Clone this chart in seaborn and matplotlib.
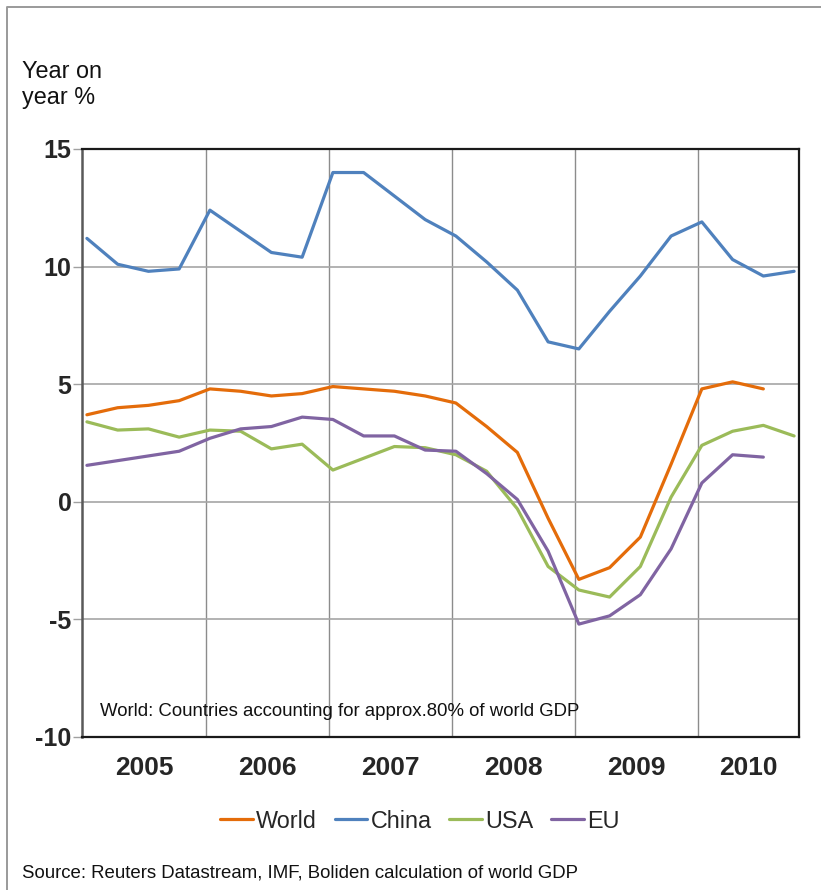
import numpy as np
import pandas as pd
import matplotlib
matplotlib.use("Agg")
import matplotlib.pyplot as plt
from matplotlib.lines import Line2D
import seaborn as sns

# Quarterly GDP growth, year on year %, 2005 Q1 - 2010 Q4
years = ["2005", "2006", "2007", "2008", "2009", "2010"]
quarters_per_year = 4

world = [3.7, 4.0, 4.1, 4.3, 4.8, 4.7, 4.5, 4.6, 4.9, 4.8, 4.7, 4.5,
         4.2, 3.2, 2.1, -0.7, -3.3, -2.8, -1.5, 1.6, 4.8, 5.1, 4.8, np.nan]
china = [11.2, 10.1, 9.8, 9.9, 12.4, 11.5, 10.6, 10.4, 14.0, 14.0, 13.0, 12.0,
         11.3, 10.2, 9.0, 6.8, 6.5, 8.1, 9.6, 11.3, 11.9, 10.3, 9.6, 9.8]
usa = [3.4, 3.05, 3.1, 2.75, 3.05, 3.0, 2.25, 2.45, 1.35, 1.85, 2.35, 2.3,
       2.0, 1.3, -0.3, -2.75, -3.75, -4.05, -2.75, 0.2, 2.4, 3.0, 3.25, 2.8]
eu = [1.55, 1.75, 1.95, 2.15, 2.7, 3.1, 3.2, 3.6, 3.5, 2.8, 2.8, 2.2,
      2.15, 1.2, 0.1, -2.1, -5.2, -4.85, -3.95, -2.0, 0.8, 2.0, 1.9, np.nan]

series_names = ["World", "China", "USA", "EU"]
colors = {"World": "#E46C0A", "China": "#4F81BD", "USA": "#9BBB59", "EU": "#8064A2"}

n = len(china)
quarter = np.arange(n)
df = pd.concat(
    [pd.DataFrame({"quarter": quarter, "value": vals, "series": name})
     for name, vals in zip(series_names, [world, china, usa, eu])],
    ignore_index=True,
)

sns.set_theme(style="white")
plt.rcParams["font.family"] = ["Liberation Sans", "DejaVu Sans"]

fig = plt.figure(figsize=(8.21, 8.90), dpi=100)
ax = fig.add_axes([82 / 821, 1 - 737 / 890, 717 / 821, 588 / 890])

sns.lineplot(data=df, x="quarter", y="value", hue="series",
             hue_order=series_names, palette=colors, linewidth=2.3,
             legend=False, ax=ax, zorder=3)

# axis ranges
ax.set_xlim(-0.16, n - 1 + 0.16)
ax.set_ylim(-10, 15)

# year separators (major) and centred year labels (minor)
offset = 0.12
bounds = [quarters_per_year * k - offset for k in range(1, len(years))]
edges = [ax.get_xlim()[0]] + bounds + [ax.get_xlim()[1]]
centres = [(a + b) / 2 for a, b in zip(edges[:-1], edges[1:])]
ax.set_xticks(bounds)
ax.set_xticklabels([])
ax.set_xticks(centres, minor=True)
ax.set_xticklabels(years, minor=True, fontsize=19, fontweight="bold")
ax.tick_params(axis="x", which="both", length=0)
ax.tick_params(axis="x", which="minor", pad=14)
ax.grid(True, axis="x", which="major", color="#8c8c8c", linewidth=1.0)

ax.set_yticks(np.arange(-10, 16, 5))
ax.set_yticklabels([str(v) for v in range(-10, 16, 5)], fontsize=18, fontweight="bold")
ax.tick_params(axis="y", direction="out", length=6.5, width=1.0, color="#a0a0a0",
               pad=1, left=True)
ax.grid(True, axis="y", color="#a6a6a6", linewidth=1.2)
ax.set_axisbelow(True)

ax.set_xlabel("")
ax.set_ylabel("")

for side in ["top", "right", "bottom"]:
    ax.spines[side].set_color("#1a1a1a")
    ax.spines[side].set_linewidth(1.6)
ax.spines["left"].set_color("#595959")
ax.spines["left"].set_linewidth(1.8)

ax.text(0.025, 0.043, "World: Countries accounting for approx.80% of world GDP",
        transform=ax.transAxes, fontsize=13.4, va="center", ha="left", color="#111111")

# unit label
fig.text(22 / 821, 1 - 60 / 890, "Year on\nyear %", fontsize=16.8, va="top", ha="left",
         linespacing=1.15, color="#111111")

# legend
handles = [Line2D([0], [0], color=colors[s], linewidth=2.3) for s in series_names]
fig.legend(handles, series_names, loc="center", ncol=4, frameon=False,
           bbox_to_anchor=(420 / 821, 1 - 821 / 890), fontsize=16.8,
           handlelength=1.4, handletextpad=0.15, columnspacing=0.75)

fig.text(22 / 821, 1 - 873 / 890,
         "Source: Reuters Datastream, IMF, Boliden calculation of world GDP",
         fontsize=13.4, va="center", ha="left", color="#111111")

# outer frame (top and left edges)
fx = 7 / 821
fy = 1 - 7 / 890
fig.add_artist(Line2D([fx, fx, 1.0], [0.0, fy, fy], transform=fig.transFigure,
                      color="#9a9a9a", linewidth=1.4))

fig.savefig("out.png", dpi=100)
